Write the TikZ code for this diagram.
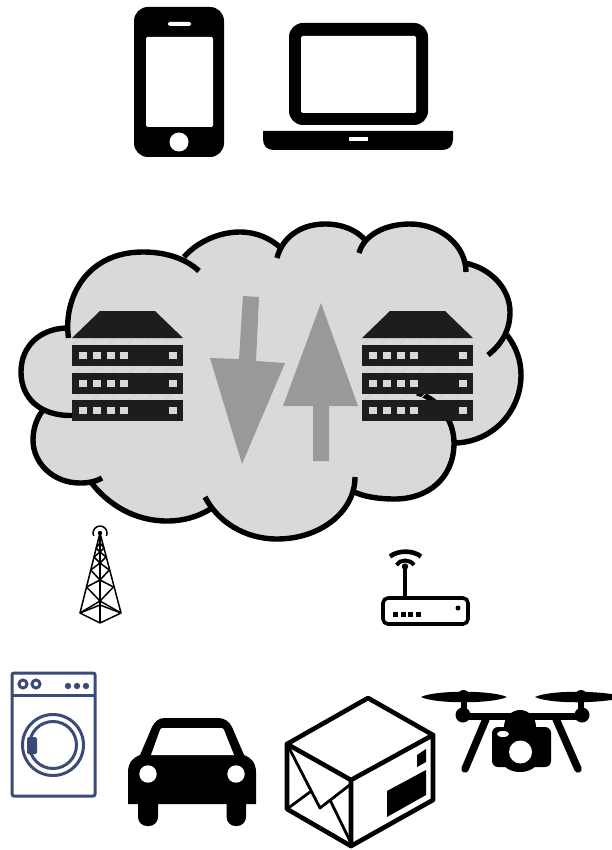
\documentclass[tikz,border=0pt]{standalone}
\usetikzlibrary{calc}
\definecolor{cloudgray}{HTML}{D9D9D9}
\definecolor{arrowgray}{HTML}{999999}
\definecolor{rackblack}{HTML}{1D1D1B}
\definecolor{washerblue}{HTML}{3B4A78}
\definecolor{hatchgray}{HTML}{CFCFCF}
\tikzset{
  lobe/.style={line width=5.4pt,black,line cap=butt},
  cloudfill/.style={fill=cloudgray,draw=cloudgray,line width=1pt},
  rack/.style={fill=rackblack,draw=none},
  led/.style={fill=cloudgray,draw=none},
  bigarrow/.style={fill=arrowgray,draw=none},
  solidblack/.style={fill=black,draw=none},
  hole/.style={fill=white,draw=none},
  towerline/.style={line width=1.5pt,black,line join=round},
  boxline/.style={line width=4.6pt,black,line join=round,line cap=round},
  thinbox/.style={line width=2.8pt,black,line join=round,line cap=round},
  washerline/.style={line width=3pt,washerblue},
  dronearm/.style={line width=7.5pt,black,line cap=round}
}
\newcommand{\serverat}[1]{%
  \begin{scope}[shift={(#1,0)}]
    \begin{scope}
      \clip (0,338) rectangle (111,400);
      \foreach \d in {10,28,...,130} \draw[hatchgray,line width=0.8pt] (\d,335) -- (\d-14,350) (\d,366) -- (\d-7,373) (\d,393) -- (\d-7,400);
    \end{scope}
    \foreach \d in {15,33,...,100} \draw[hatchgray,line width=0.8pt] (\d-10,338) -- (\d+4,320);
    \fill[rack] (28,311) -- (83,311) -- (111,338) -- (0,338) -- cycle;
    \foreach \yy in {345,373,400} {
      \fill[rack] (0,\yy) rectangle (111,\yy+21);
      \foreach \xx in {7,21,35,48,97} \fill[led] (\xx,\yy+7) rectangle (\xx+7.5,\yy+14);
    }
  \end{scope}}
\begin{document}
\begin{tikzpicture}[x=1pt,y=-1pt]
\useasboundingbox (0,0) rectangle (611,850);
% ---- phone
\fill[solidblack,rounded corners=14pt] (134,7) rectangle (224,157);
\fill[hole,rounded corners=1.5pt] (146,37) rectangle (213,127);
\fill[hole,rounded corners=1.5pt] (168,22) rectangle (191,26);
\fill[hole] (179,142) circle (9.5);
% ---- laptop
\fill[solidblack,rounded corners=14pt] (289,23) rectangle (428,125);
\fill[hole,rounded corners=1.5pt] (301,36) rectangle (416,113);
\fill[solidblack] (263,131) -- (453,131) -- (453,139) .. controls (453,146) and (449,150) .. (442,150) -- (274,150) .. controls (267,150) and (263,146) .. (263,139) -- cycle;
\fill[hole] (349,137.5) rectangle (368,141);
% ---- cloud
\def\lA{(72,415.5) .. controls (40,416) and (21,398) .. (21,372) .. controls (21,346) and (40,329) .. (66,328)}
\def\lB{(68.5,338) .. controls (63,300) and (85,252) .. (143,252) .. controls (165,252) and (185,258) .. (199,271)}
\def\lC{(184,257) .. controls (198,241) and (220,232) .. (240,232) .. controls (256,232) and (270,238) .. (281,248)}
\def\lD{(277,258) .. controls (282,238) and (300,224) .. (325,224) .. controls (342,224) and (357,230) .. (366,241)}
\def\lE{(359,253) .. controls (364,235) and (385,224) .. (410,224) .. controls (440,224) and (466,245) .. (466,272)}
\def\lF{(465,263) .. controls (490,268) and (510,288) .. (510,312) .. controls (510,330) and (502,344) .. (488,355)}
\def\lG{(507,335) .. controls (516,347) and (521,360) .. (521,375) .. controls (521,412) and (492,442) .. (455,443)}
\def\lH{(417,393) .. controls (438,398) and (454,420) .. (454,443) .. controls (454,478) and (428,499) .. (395,499) .. controls (379,499) and (364,497) .. (352,491)}
\def\lI{(355,477) .. controls (355,512) and (320,539) .. (277,539) .. controls (245,539) and (218,522) .. (205,497)}
\def\lJ{(212,508) .. controls (198,517) and (183,521) .. (167,521) .. controls (135,521) and (108,505) .. (90,481)}
\def\lK{(102,478) .. controls (95,482) and (88,483) .. (80,483) .. controls (53,483) and (33,463) .. (33,440) .. controls (33,428) and (37,418) .. (43,410)}
\path[cloudfill] (66,328) -- (184,257) -- (281,248) -- (366,241) -- (465,263) -- (507,335) -- (455,443) -- (352,491) -- (212,508) -- (92,481) -- (43,410) -- cycle;
\foreach \L in {\lA,\lB,\lC,\lD,\lE,\lF,\lG,\lH,\lI,\lJ,\lK}
  \path[cloudfill] \L -- cycle;
\foreach \L in {\lA,\lB,\lC,\lD,\lE,\lF,\lG,\lH,\lI,\lJ,\lK}
  \draw[lobe] \L;
% ---- servers
\serverat{72}
\serverat{362}
% ---- big arrows
\fill[bigarrow] (243,296) -- (259,297) -- (256,361) -- (285,363) -- (242,464) -- (210,358) -- (239,359) -- cycle;
\fill[bigarrow] (321,303) -- (358,406) -- (329,406) -- (329,461) -- (313,461) -- (313,406) -- (283,406) -- cycle;
% ---- tower
\draw[towerline] (93.7,536) arc[start angle=155,end angle=385,radius=7];
\fill[black] (100,533) circle (2.2);
\draw[towerline] (100,533) -- (80,613) -- (100,623) -- (121,613) -- cycle;
\draw[towerline] (100,533) -- (100,623);
\draw[towerline] (80,613) -- (100,601) -- (121,613);
\draw[towerline] (80,613) -- (100,605) -- (121,613);
\draw[towerline] (86.5,587) -- (100,601) -- (113.5,587);
\draw[towerline] (86.5,587) -- (100,580) -- (113.5,587);
\draw[towerline] (90.7,570) -- (100,580) -- (109.3,570);
\draw[towerline] (90.7,570) -- (100,563) -- (109.3,570);
\draw[towerline] (94,557) -- (100,563) -- (106,557);
\draw[towerline] (94,557) -- (100,552) -- (106,557);
\draw[towerline] (96,548) -- (100,552) -- (104,548);
\draw[towerline] (96,548) -- (100,543) -- (104,548);
% ---- router
\draw[line width=3.6pt,black,rounded corners=5pt] (383,598) rectangle (468,624);
\draw[line width=4.4pt,black] (405,568) -- (405,598);
\fill[black] (405,566.5) circle (3.2);
\draw[line width=4pt,black] (396.5,565) .. controls (400,559) and (410,559) .. (414,565);
\draw[line width=4.6pt,black] (390,556.5) .. controls (398,550) and (413,550) .. (421,556.5);
\foreach \xx in {393,401,408,416} \fill[black] (\xx,612) rectangle (\xx+4.5,616.5);
\fill[black] (458,608) circle (2.5);
% ---- washing machine
\draw[washerline,rounded corners=2pt] (12,673) rectangle (95,796);
\draw[washerline] (12,695) -- (95,695);
\draw[washerline] (23,684) circle (4) (36,684) circle (4);
\fill[washerblue] (68,686) circle (3.2) (77,686) circle (3.2) (86,686) circle (3.2);
\draw[washerline] (53,745) circle (30.5);
\draw[washerline] (53,745) circle (23.5);
\fill[washerblue,rounded corners=1.5pt] (27,737) rectangle (37,754);
% ---- car
\fill[solidblack] (128,804) -- (128,772) .. controls (128,762) and (134,757) .. (140,755) -- (152,727) .. controls (155,721) and (159,718) .. (165,718) -- (218,718) .. controls (224,718) and (229,721) .. (232,727) -- (244,755) .. controls (250,757) and (256,762) .. (256,772) -- (256,804) -- cycle;
\fill[solidblack,rounded corners=9pt] (138,795) rectangle (158,826);
\fill[solidblack,rounded corners=9pt] (226.5,795) rectangle (246,826);
\fill[hole] (151,755) -- (160,730) .. controls (161,728) and (162,728) .. (164,728) -- (220,728) .. controls (222,728) and (223,728) .. (224,730) -- (234,755) -- cycle;
\fill[hole] (148,774) circle (8.7) (236,774) circle (8.7);
% ---- parcel
\draw[boxline] (368,698) -- (433,735) -- (433,800) -- (351,846) -- (287,809) -- (287,744) -- cycle;
\draw[boxline] (287,744) -- (351,780) -- (433,735) (351,780) -- (351,846);
\draw[thinbox] (287,744) -- (320,808) -- (351,784);
\draw[thinbox] (287,809) -- (310,792) (330,800) -- (351,843);
\fill[solidblack] (417,755) -- (426,749) -- (426,762) -- (417,767) -- cycle;
\fill[solidblack] (387,791) -- (426,770) -- (426,795) -- (387,817) -- cycle;
% ---- drone
\fill[black] (421,697) .. controls (435,690) and (492,690) .. (507,697) .. controls (492,704) and (435,704) .. (421,697) -- cycle;
\fill[black] (535,697) .. controls (550,690) and (600,690) .. (627,697) .. controls (600,704) and (550,704) .. (535,697) -- cycle;
\fill[black] (463.5,696) circle (6) (581,696) circle (6);
\draw[line width=6pt,black] (463.5,697) -- (463.5,712) (581,697) -- (581,712);
\fill[black] (463,715) circle (7.5) (582,715) circle (7.5);
\draw[line width=7pt,black] (463,716) -- (582,716);
\draw[dronearm] (486,719) -- (465,769);
\draw[dronearm] (556,719) -- (578,769);
\fill[solidblack,rounded corners=6pt] (492,727) rectangle (551,767);
\fill[black] (520,727) ellipse (16 and 17);
\fill[black] (520,760) ellipse (18 and 12);
\fill[white] (503,734) ellipse (6 and 3);
\fill[white] (520.5,752) circle (11.5);
\end{tikzpicture}
\end{document}
